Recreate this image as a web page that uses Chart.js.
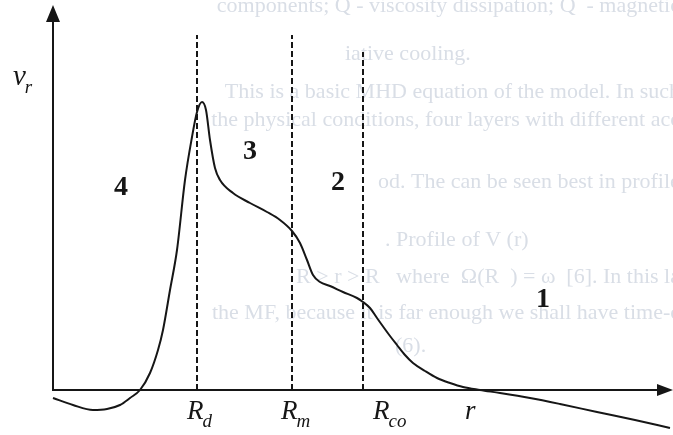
<!DOCTYPE html>
<html lang="en">
<head>
<meta charset="UTF-8">
<title>Profile of v_r(r)</title>
<script src="https://cdn.jsdelivr.net/npm/chart.js"></script>
<style>
  html, body { margin: 0; padding: 0; background: #fff; }
  #wrap { width: 673px; height: 435px; }
</style>
</head>
<body>
<div id="wrap"><canvas id="graph" width="673" height="435"></canvas></div>
<script>
// v_r(r) curve (r to the right, v_r up)
const rVals = [0, 2.0, 4.0, 5.4, 6.7, 7.7, 8.7, 9.7, 10.5, 11.0, 11.7, 12.4, 13.2, 13.9, 14.4, 14.9,
  15.3, 15.7, 16.2, 16.7, 18.0, 19.7, 21.4, 22.7, 23.9, 24.7, 25.4, 26.0, 26.7, 27.7, 29.0, 30.4,
  31.0, 31.7, 32.4, 33.7, 34.4, 35.2, 36.0, 37.2, 38.4, 39.7, 41.0, 42.7, 44.7, 47.7, 50.7, 54.4, 58.2, 61.7];
const vVals = [-0.8, -1.5, -2.0, -1.9, -1.5, -0.8, 0, 1.7, 4.0, 6.0, 10.0, 14.0, 21.0, 25.3, 27.8, 28.8,
  28.0, 25.0, 22.2, 21.0, 19.7, 18.7, 17.8, 17.0, 15.9, 14.7, 13.0, 11.5, 10.8, 10.4, 9.8, 9.2,
  8.8, 8.2, 7.2, 5.4, 4.5, 3.5, 2.7, 1.9, 1.2, 0.7, 0.3, 0, -0.3, -0.8, -1.4, -2.2, -3.0, -3.8];

// layer boundaries R_d, R_m, R_co
const boundaryR = [14.4, 23.9, 31.0];
const boundaryTop = [35.5, 35.5, 33.8];
const boundaryMain = ['R', 'R', 'R'];
const boundarySub = ['d', 'm', 'co'];

// layer numbers
const layerName = ['4', '3', '2', '1'];
const layerR = [6.8, 19.7, 28.5, 49.0];
const layerV = [20.2, 23.8, 20.7, 9.0];

// axis ranges
const rMin = -5.3, rMax = 62.0;
const vMin = -4.5, vMax = 39.0;

// text of the page showing through the scan
const ghostLines = [
  'components; Q - viscosity dissipation; Q  - magnetic',
  'iative cooling.',
  'This is a basic MHD equation of the model. In such',
  'the physical conditions, four layers with different acc',
  'od. The can be seen best in profile V (r).',
  '. Profile of V (r)',
  'R > r > R   where  \u03A9(R  ) = \u03C9  [6]. In this la',
  'the MF, because it is far enough we shall have time-c',
  '(6).'
];

const ink = '#161616';
const serif = '"Liberation Serif", "DejaVu Serif", serif';

const datasets = [{
  data: rVals.map((r, i) => ({ x: r, y: vVals[i] })),
  borderColor: ink,
  borderWidth: 2,
  cubicInterpolationMode: 'monotone',
  pointRadius: 0
}];
boundaryR.forEach((r, i) => {
  datasets.push({
    data: [{ x: r, y: 0 }, { x: r, y: boundaryTop[i] }],
    borderColor: ink,
    borderWidth: 2,
    borderDash: [6, 3],
    pointRadius: 0
  });
});

function subText(ctx, main, sub, x, y, size, subSize, drop) {
  ctx.textAlign = 'left';
  ctx.textBaseline = 'alphabetic';
  ctx.font = 'italic ' + size + 'px ' + serif;
  ctx.fillText(main, x, y);
  const w = ctx.measureText(main).width;
  ctx.font = 'italic ' + subSize + 'px ' + serif;
  ctx.fillText(sub, x + w - 1, y + drop);
}

const decor = {
  id: 'decor',
  beforeDatasetsDraw(chart) {
    const ctx = chart.ctx;
    ctx.save();
    ctx.fillStyle = '#d9dee6';
    ctx.font = '22px ' + serif;
    ctx.textBaseline = 'alphabetic';
    const at = [[680, 12, 'right'], [345, 60, 'left'], [680, 98, 'right'], [680, 126, 'right'],
      [378, 188, 'left'], [385, 246, 'left'], [680, 283, 'right'], [680, 319, 'right'], [395, 352, 'left']];
    ghostLines.forEach((t, i) => {
      ctx.textAlign = at[i][2];
      ctx.fillText(t, at[i][0], at[i][1]);
    });
    ctx.restore();
  },
  afterDatasetsDraw(chart) {
    const ctx = chart.ctx;
    const xs = chart.scales.x, ys = chart.scales.y;
    const x0 = xs.getPixelForValue(0), y0 = ys.getPixelForValue(0);
    const yTop = ys.getPixelForValue(38.5), xEnd = xs.getPixelForValue(rMax);
    ctx.save();
    ctx.strokeStyle = ink;
    ctx.fillStyle = ink;
    ctx.lineWidth = 2;
    // axes
    ctx.beginPath();
    ctx.moveTo(x0, y0 + 1);
    ctx.lineTo(x0, yTop + 14);
    ctx.moveTo(x0, y0);
    ctx.lineTo(xEnd - 14, y0);
    ctx.stroke();
    // arrow heads
    ctx.beginPath();
    ctx.moveTo(x0, yTop);
    ctx.lineTo(x0 - 7, yTop + 17);
    ctx.lineTo(x0 + 7, yTop + 17);
    ctx.closePath();
    ctx.moveTo(xEnd, y0);
    ctx.lineTo(xEnd - 16, y0 - 6);
    ctx.lineTo(xEnd - 16, y0 + 6);
    ctx.closePath();
    ctx.fill();
    // small ticks
    ctx.lineWidth = 1.5;
    ctx.beginPath();
    boundaryR.forEach(r => {
      const px = xs.getPixelForValue(r);
      ctx.moveTo(px, y0 - 5);
      ctx.lineTo(px, y0);
    });
    ctx.stroke();
    // boundary labels under the axis
    const shift = [-10, -11, 10];
    boundaryR.forEach((r, i) => {
      subText(ctx, boundaryMain[i], boundarySub[i], xs.getPixelForValue(r) + shift[i], y0 + 29, 27, 19, 8);
    });
    // axis names
    subText(ctx, 'v', 'r', xs.getPixelForValue(-4.0), ys.getPixelForValue(30.5), 29, 19, 8);
    ctx.font = 'italic 27px ' + serif;
    ctx.fillText('r', xs.getPixelForValue(41.2), y0 + 29);
    // layer numbers
    ctx.font = 'bold 28px ' + serif;
    ctx.textAlign = 'center';
    ctx.textBaseline = 'middle';
    layerName.forEach((n, i) => {
      ctx.fillText(n, xs.getPixelForValue(layerR[i]), ys.getPixelForValue(layerV[i]));
    });
    ctx.restore();
  }
};

new Chart(document.getElementById('graph').getContext('2d'), {
  type: 'line',
  data: { datasets },
  options: {
    responsive: false,
    animation: false,
    devicePixelRatio: 1,
    layout: { padding: 0 },
    plugins: { legend: { display: false }, tooltip: { enabled: false } },
    scales: {
      x: { type: 'linear', min: rMin, max: rMax, display: false },
      y: { type: 'linear', min: vMin, max: vMax, display: false }
    }
  },
  plugins: [decor]
});
</script>
</body>
</html>
